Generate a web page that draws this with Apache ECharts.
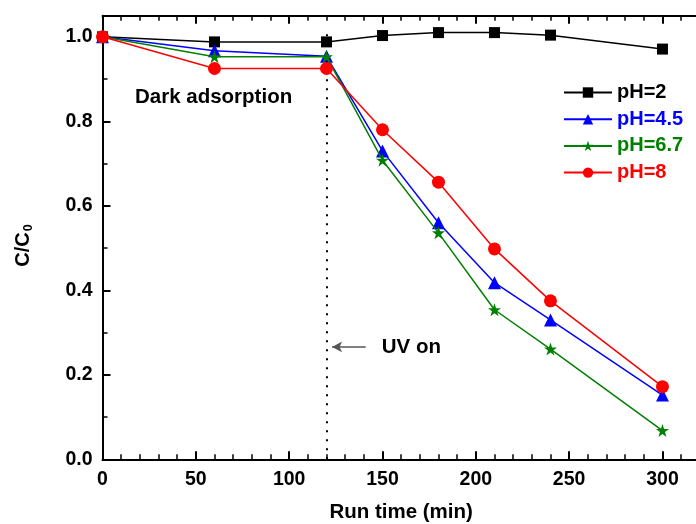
<!DOCTYPE html>
<html>
<head>
<meta charset="utf-8">
<script src="https://cdn.jsdelivr.net/npm/echarts@6/dist/echarts.min.js"></script>
<style>html,body{margin:0;padding:0;background:#fff;}#c{width:696px;height:524px;}</style>
</head>
<body>
<div id="c"></div>
<script>
const times = [0, 60, 120, 150, 180, 210, 240, 300];
const seriesNames = ['pH=2', 'pH=4.5', 'pH=6.7', 'pH=8'];
const pH2 = [1.0, 0.988, 0.988, 1.003, 1.010, 1.010, 1.004, 0.971];
const pH45 = [1.0, 0.967, 0.954, 0.730, 0.560, 0.418, 0.330, 0.152];
const pH67 = [1.0, 0.953, 0.953, 0.708, 0.536, 0.354, 0.261, 0.068];
const pH8 = [1.0, 0.925, 0.925, 0.780, 0.656, 0.498, 0.375, 0.172];
const xTicks = [0, 50, 100, 150, 200, 250, 300];
const yTicks = [0.0, 0.2, 0.4, 0.6, 0.8, 1.0];
const uvOnTime = 120;
const uvArrow = { fromX: 141, toX: 123, y: 0.266 };
const darkLabelPos = [17.4, 0.856];
const uvLabelPos = [149.6, 0.266];

const FONT = '"Liberation Sans", Arial, sans-serif';
const colors = ['#000000', '#0000ff', '#008000', '#ff0000'];
const STAR = 'path://M50,0 L61.8,35.3 L99,35.3 L69,57.3 L80.3,92.7 L50,70.7 L19.7,92.7 L31,57.3 L1,35.3 L38.2,35.3 Z';
const symbols = ['rect', 'triangle', STAR, 'circle'];
const sizes = [11, 13, 13, 13];
const valuesList = [pH2, pH45, pH67, pH8];

const chart = echarts.init(document.getElementById('c'));

function pairs(v) { return times.map((t, i) => [t, v[i]]); }

const series = seriesNames.map((name, i) => ({
  name: name,
  type: 'line',
  data: pairs(valuesList[i]),
  symbol: symbols[i],
  symbolSize: sizes[i],
  itemStyle: { color: colors[i] },
  lineStyle: { color: colors[i], width: 1.5 },
  z: 3 + i
}));
series[0].markLine = {
  silent: true, symbol: 'none', label: { show: false },
  lineStyle: { color: '#000', type: [2, 7], width: 2 },
  data: [[{ coord: [uvOnTime, 0] }, { coord: [uvOnTime, 1.01] }]]
};
series[1].markLine = {
  silent: true, symbol: ['none', 'arrow'], symbolSize: [8, 10], label: { show: false },
  itemStyle: { color: '#222' },
  lineStyle: { color: '#555', type: 'solid', width: 1.5 },
  data: [[{ coord: [uvArrow.fromX, uvArrow.y] }, { coord: [uvArrow.toX, uvArrow.y] }]]
};

const axisLineStyle = { color: '#000', width: 2 };
const tickStyle = { color: '#000', width: 2 };

chart.setOption({
  animation: false,
  backgroundColor: '#fff',
  grid: { left: 102.5, top: 15.7, width: 597.3, height: 443.6, containLabel: false, outerBoundsMode: 'none' },
  legend: {
    orient: 'vertical',
    left: 563, top: 82.5,
    padding: 0,
    itemWidth: 48, itemHeight: 13, itemGap: 6.7,
    textStyle: { fontFamily: FONT, fontWeight: 'bold', fontSize: 20, lineHeight: 20 },
    data: seriesNames.map((n, i) => ({ name: n, textStyle: { color: colors[i] } }))
  },
  xAxis: [{
    type: 'value', min: 0, max: 320, interval: 50, position: 'bottom',
    name: 'Run time (min)', nameLocation: 'middle', nameGap: 43,
    nameTextStyle: { fontFamily: FONT, fontWeight: 'bold', fontSize: 20.5, color: '#000' },
    axisLine: { show: true, onZero: false, lineStyle: axisLineStyle },
    axisTick: { show: true, inside: true, length: 8, lineStyle: tickStyle },
    minorTick: { show: true, splitNumber: 5, length: 5, lineStyle: { color: '#000', width: 1.5 } },
    splitLine: { show: false },
    axisLabel: {
      fontFamily: FONT, fontWeight: 'bold', fontSize: 19.5, color: '#000', margin: 10,
      showMaxLabel: false,
      formatter: v => (xTicks.indexOf(v) >= 0 ? String(v) : '')
    }
  }, {
    type: 'value', min: 0, max: 320, interval: 50, position: 'top',
    axisLine: { show: true, onZero: false, lineStyle: axisLineStyle },
    axisTick: { show: true, inside: true, length: 8, lineStyle: tickStyle },
    minorTick: { show: true, splitNumber: 5, length: 5, lineStyle: { color: '#000', width: 1.5 } },
    splitLine: { show: false },
    axisLabel: { show: false }
  }],
  yAxis: [{
    type: 'value', min: 0, max: 1.05, interval: 0.2,
    name: '{a|C/C}{b|0}{c| }', nameLocation: 'middle', nameGap: 67, nameRotate: 90,
    nameTextStyle: {
      rich: {
        a: { fontFamily: FONT, fontWeight: 'bold', fontSize: 20, color: '#000' },
        b: { fontFamily: FONT, fontWeight: 'bold', fontSize: 12.5, color: '#000', padding: [11, 0, 0, 1] },
        c: { fontSize: 12, width: 16 }
      }
    },
    axisLine: { show: true, onZero: false, lineStyle: axisLineStyle },
    axisTick: { show: true, inside: true, length: 8, lineStyle: tickStyle },
    minorTick: { show: true, splitNumber: 2, length: 5, lineStyle: { color: '#000', width: 1.5 } },
    splitLine: { show: false },
    axisLabel: {
      fontFamily: FONT, fontWeight: 'bold', fontSize: 19.5, color: '#000', margin: 10,
      showMaxLabel: false,
      formatter: v => (yTicks.some(t => Math.abs(t - v) < 1e-6) ? v.toFixed(1) : '')
    }
  }],
  series: series
});

const p1 = chart.convertToPixel({ xAxisIndex: 0, yAxisIndex: 0 }, darkLabelPos);
const p2 = chart.convertToPixel({ xAxisIndex: 0, yAxisIndex: 0 }, uvLabelPos);
chart.setOption({
  graphic: [
    { type: 'text', x: p1[0], y: p1[1], style: { text: 'Dark adsorption', fontFamily: FONT, fontWeight: 'bold', fontSize: 20.5, fill: '#000', verticalAlign: 'middle', align: 'left' } },
    { type: 'text', x: p2[0], y: p2[1], style: { text: 'UV on', fontFamily: FONT, fontWeight: 'bold', fontSize: 20.5, fill: '#000', verticalAlign: 'middle', align: 'left' } }
  ]
});
</script>
</body>
</html>
